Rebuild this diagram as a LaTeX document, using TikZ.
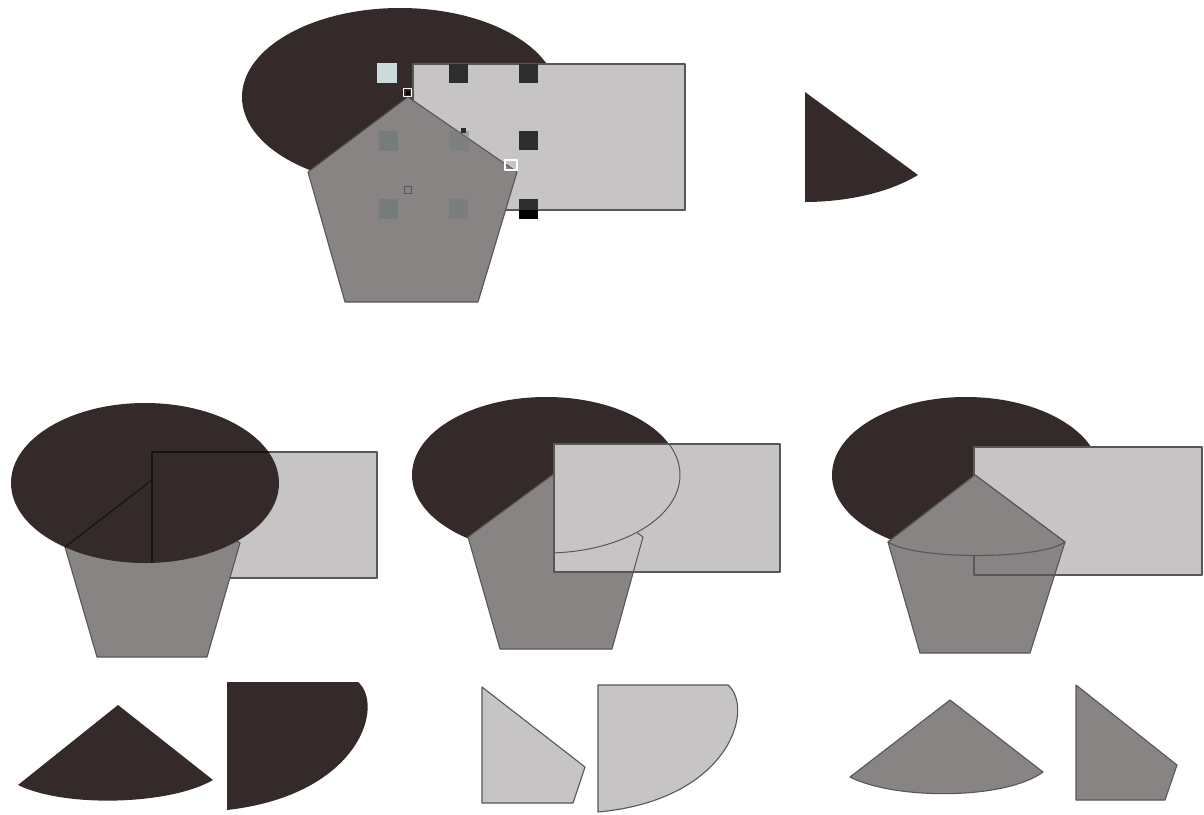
\documentclass[tikz,border=0pt]{standalone}
\begin{document}
\begin{tikzpicture}[x=1pt,y=-1pt,
  line join=round,
  darkfill/.style={fill=cdark},
  midshape/.style={fill=cmid,draw=cline,line width=1.1pt},
  lightshape/.style={fill=clight,draw=cline,line width=1.1pt},
  darkline/.style={draw=cdline,line width=1.2pt},
  thinline/.style={draw=cline,line width=1pt},
  hdark/.style={fill=chandle},
  hgrey/.style={fill=cghost},
]
\definecolor{cdark}{RGB}{53,42,42}
\definecolor{cmid}{RGB}{136,132,132}
\definecolor{clight}{RGB}{199,196,197}
\definecolor{cline}{RGB}{88,86,86}
\definecolor{cdline}{RGB}{26,18,18}
\definecolor{chandle}{RGB}{45,45,45}
\definecolor{cghost}{RGB}{118,124,124}
\definecolor{cpale}{RGB}{205,218,220}
\useasboundingbox (0,0) rectangle (1204,814);
\fill[white] (0,0) rectangle (1204,814);

% ================= top group =================
\fill[darkfill] (400,97) ellipse [x radius=158, y radius=89];
\path[lightshape] (413,64) rectangle (685,210);
\path[midshape] (408,97) -- (517,172) -- (478,302) -- (345,302) -- (308,172) -- cycle;
% selection handles
\fill[cpale] (377,63) rectangle (397,83);
\fill[hdark] (449,64) rectangle (468,83);
\fill[hdark] (519,64) rectangle (538,83);
\fill[hdark] (519,131) rectangle (538,150);
\fill[hdark] (519,199) rectangle (538,210);
\fill[black] (519,210) rectangle (538,219);
\fill[hgrey] (379,131) rectangle (398,151);
\fill[hgrey, opacity=0.5] (450,131) rectangle (469,151);
\fill[hgrey] (379,199) rectangle (398,219);
\fill[hgrey, opacity=0.7] (449,199) rectangle (468,219);
\draw[cline, line width=0.6pt] (404,186) rectangle (411,193);
\draw[white, line width=1pt] (403,88) rectangle (411,96);
\fill[black] (406,91) rectangle (410,95);
\draw[white, line width=1.2pt] (505,160) rectangle (517,170);
\fill[chandle] (461,128) rectangle (466,133);

% top right wedge
\fill[darkfill] (805,92) -- (918,175) .. controls (885,195) and (840,202) .. (805,202) -- cycle;

% ================= bottom group 1 =================
\path[lightshape] (152,452) rectangle (377,578);
\path[midshape] (152,480) -- (240,543) -- (207,657) -- (97,657) -- (65,547) -- cycle;
\fill[darkfill] (145,483) ellipse [x radius=134, y radius=80];
\begin{scope}
  \clip (145,483) ellipse [x radius=134, y radius=80];
  \path[darkline] (152,580) -- (152,452) -- (380,452);
  \path[darkline] (65,547) -- (152,480);
\end{scope}

% ================= bottom group 2 =================
\fill[darkfill] (546,475) ellipse [x radius=134, y radius=78];
\path[midshape] (555,473) -- (643,537) -- (612,649) -- (500,649) -- (468,537) -- cycle;
\fill[clight] (554,444) rectangle (780,572);
\begin{scope}
  \clip (554,444) rectangle (780,572);
  \path[thinline] (555,473) -- (643,537) -- (612,649);
  \fill[clight] (546,475) ellipse [x radius=134, y radius=78];
  \path[thinline] (546,475) ellipse [x radius=134, y radius=78];
\end{scope}
\draw[cline, line width=1.1pt] (554,444) rectangle (780,572);

% ================= bottom group 3 =================
\fill[darkfill] (966,475) ellipse [x radius=134, y radius=78];
\fill[clight] (974,447) rectangle (1202,575);
\path[midshape] (975,475) -- (1065,542) -- (1030,653) -- (920,653) -- (888,542) -- cycle;
\draw[cline, line width=1.1pt] (974,447) rectangle (1202,575);
\path[midshape] (975,475) -- (1065,542) .. controls (1040,560) and (915,560) .. (888,542) -- cycle;

% ================= bottom row pieces =================
% dark pieces
\fill[darkfill] (118,705) -- (213,780) .. controls (170,805) and (65,808) .. (18,785) -- cycle;
\fill[darkfill] (227,682) -- (358,682) .. controls (385,705) and (360,795) .. (227,810) -- cycle;
% light pieces
\path[lightshape] (482,687) -- (585,767) -- (573,803) -- (482,803) -- cycle;
\path[lightshape] (598,685) -- (728,685) .. controls (755,708) and (730,800) .. (598,812) -- cycle;
% mid pieces
\path[midshape] (950,700) -- (1043,772) .. controls (1005,800) and (895,800) .. (850,777) -- cycle;
\path[midshape] (1076,685) -- (1177,765) -- (1165,800) -- (1076,800) -- cycle;
\end{tikzpicture}
\end{document}
